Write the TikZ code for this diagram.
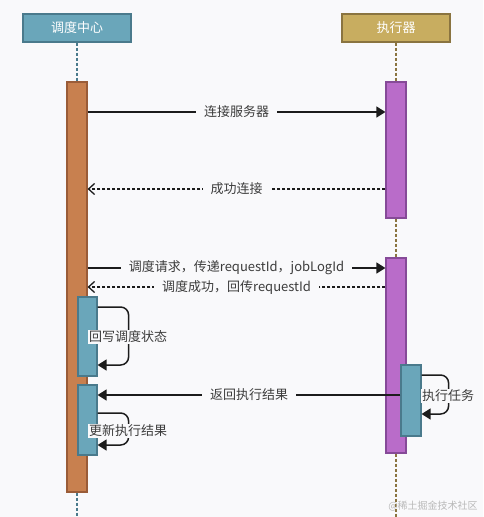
\documentclass[tikz,border=0pt]{standalone}
\usepackage{fontspec}
\setmainfont{Noto Sans CJK SC}
\usetikzlibrary{arrows.meta}

\definecolor{bgcol}{HTML}{F9F9FB}
\definecolor{txtcol}{HTML}{3C3C3C}
\definecolor{tealfill}{HTML}{6AA6BA}
\definecolor{tealdraw}{HTML}{4A7A8C}
\definecolor{goldfill}{HTML}{C8AD60}
\definecolor{golddraw}{HTML}{8A7440}
\definecolor{orangefill}{HTML}{C8804F}
\definecolor{orangedraw}{HTML}{9A5C38}
\definecolor{purplefill}{HTML}{B96CC9}
\definecolor{purpledraw}{HTML}{864A98}
\definecolor{linecol}{HTML}{1C1C1C}

\tikzset{
  header/.style={draw=#1,line width=1.2pt,minimum width=108pt,minimum height=28pt,
    inner sep=0pt,text=white,font=\fontsize{13}{15}\selectfont},
  bar/.style={draw=#1,line width=1.2pt,inner sep=0pt,minimum width=20pt},
  lifeline/.style={line width=1.3pt,dash pattern=on 3pt off 2pt},
  msg/.style={draw=linecol,line width=1.5pt,-{Triangle[length=9pt,width=11pt]}},
  reply/.style={draw=linecol,line width=1.3pt,dash pattern=on 3pt off 2pt,
    -{Straight Barb[length=6pt,width=11pt]}},
  lbl/.style={fill=bgcol,text=txtcol,inner xsep=8pt,inner ysep=1pt,
    font=\fontsize{13}{15}\selectfont}
}

\begin{document}
\begin{tikzpicture}[x=1pt,y=-1pt]
\fill[bgcol] (0,0) rectangle (483,517);
\useasboundingbox (0,0) rectangle (483,517);

% participants
\node[header=tealdraw,fill=tealfill] (hsched) at (77,28) {调度中心};
\node[header=golddraw,fill=goldfill] (hexec) at (396,28) {执行器};

% activation bars
\node[bar=orangedraw,fill=orangefill,minimum height=410pt] (barL) at (77,287) {};
\node[bar=purpledraw,fill=purplefill,minimum height=136pt] (barR1) at (396,150) {};
\node[bar=purpledraw,fill=purplefill,minimum height=195pt] (barR2) at (396,355.5) {};
\node[bar=tealdraw,fill=tealfill,minimum width=19pt,minimum height=79pt] (actL1) at (87.5,336.5) {};
\node[bar=tealdraw,fill=tealfill,minimum width=19pt,minimum height=70pt] (actL2) at (87.5,420) {};
\node[bar=tealdraw,fill=tealfill,minimum height=71pt] (actR) at (411,400.5) {};

% lifelines
\coordinate (endL) at (77,517);
\coordinate (endR) at (396,517);
\draw[lifeline,draw=tealdraw] (hsched.south) -- (barL.north);
\draw[lifeline,draw=tealdraw] (barL.south) -- (endL);
\draw[lifeline,draw=golddraw] (hexec.south) -- (barR1.north);
\draw[lifeline,draw=golddraw] (barR1.south) -- (barR2.north);
\draw[lifeline,draw=golddraw] (barR2.south) -- (endR);

% message rows
\coordinate (m1) at (0,112);
\coordinate (m2) at (0,189);
\coordinate (m3) at (0,268);
\coordinate (m4) at (0,287);
\coordinate (m5) at (0,395);

\draw[msg] (barL.east |- m1) -- (barR1.west |- m1) node[midway,lbl] {连接服务器};
\draw[reply] (barR1.west |- m2) -- (barL.east |- m2) node[midway,lbl] {成功连接};
\draw[msg] (barL.east |- m3) -- (barR2.west |- m3) node[midway,lbl] {调度请求，传递requestId，jobLogId};
\draw[reply] (barR2.west |- m4) -- (barL.east |- m4) node[midway,lbl] {调度成功，回传requestId};
\draw[msg] (actR.west |- m5) -- (actL2.east |- m5) node[pos=0.5,lbl] {返回执行结果};

% self calls
\coordinate (s1a) at (0,307);  \coordinate (s1b) at (0,365);
\coordinate (s2a) at (0,413);  \coordinate (s2b) at (0,445);
\coordinate (s3a) at (0,375);  \coordinate (s3b) at (0,414);
\draw[msg,rounded corners=8pt] (actL1.east |- s1a) -- ++(31,0) |- (actL1.east |- s1b);
\draw[msg,rounded corners=8pt] (actL2.east |- s2a) -- ++(31,0) |- (actL2.east |- s2b);
\draw[msg,rounded corners=8pt] (actR.east |- s3a) -- ++(27,0) |- (actR.east |- s3b);
\node[lbl,inner xsep=1pt] (t1) at (128,337) {回写调度状态};
\node[lbl,inner xsep=1pt] (t2) at (128,431) {更新执行结果};
\node[lbl,inner xsep=1pt] (t3) at (448,396) {执行任务};

% watermark
\node[text=gray!55,font=\fontsize{10}{12}\selectfont] (wm) at (433,506) {@稀土掘金技术社区};
\end{tikzpicture}
\end{document}
